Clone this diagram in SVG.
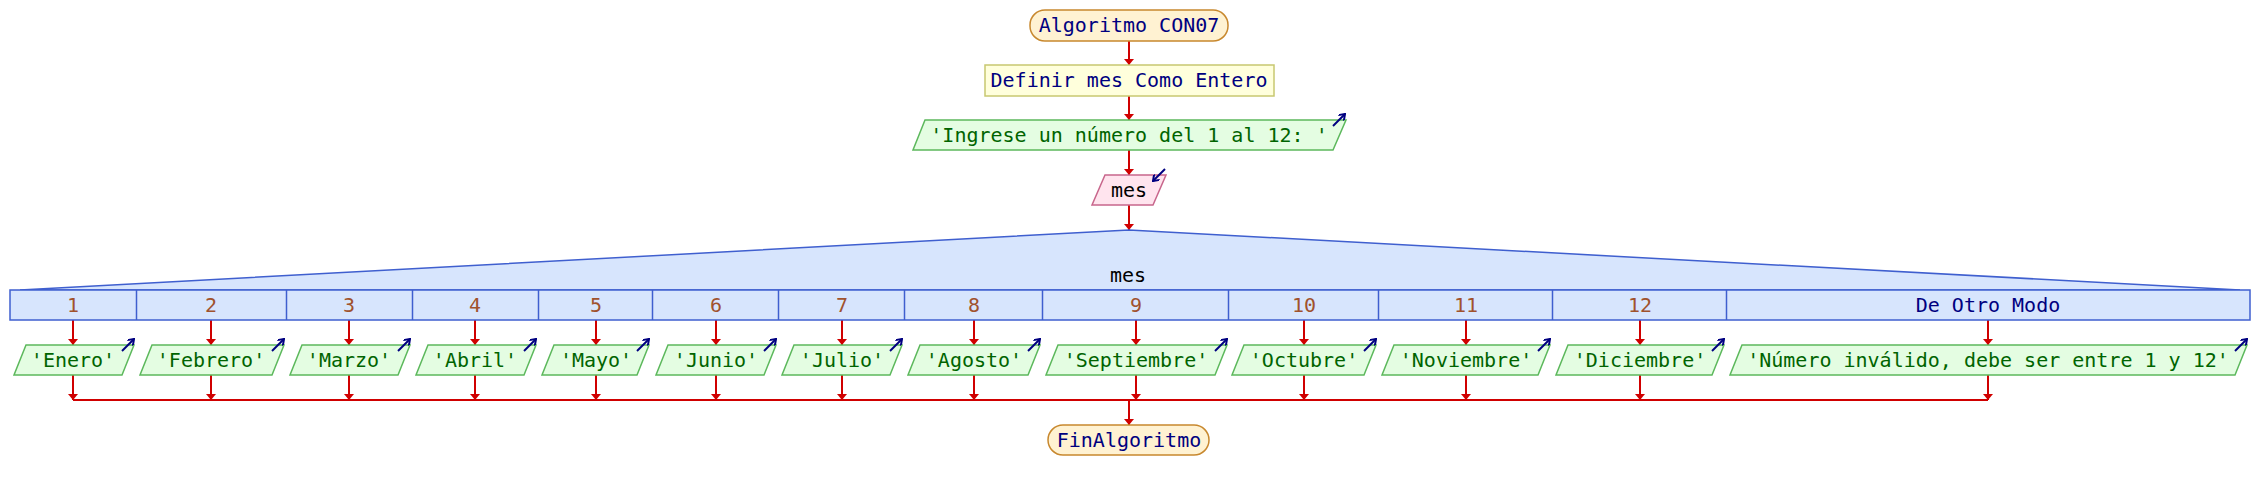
<svg xmlns="http://www.w3.org/2000/svg" width="2258" height="490" viewBox="0 0 2258 490">
<style>
text{font-family:"DejaVu Sans Mono","Liberation Mono",monospace;font-size:20px;text-anchor:middle}
.term{fill:#fff2d2;stroke:#c8882e;stroke-width:1.5}
.def{fill:#ffffdc;stroke:#c8c870;stroke-width:1.5}
.out{fill:#e4fde2;stroke:#5cb85c;stroke-width:1.5}
.in{fill:#ffe4ee;stroke:#c8668c;stroke-width:1.5}
.sw{fill:#d7e5fd;stroke:#3f5fcf;stroke-width:1.5}
.navy{fill:#000080}
.green{fill:#006400}
.black{fill:#000}
.case{fill:#a0522d}
.edge{stroke:#d00000;stroke-width:2;fill:none}
.sym{stroke:#000080;stroke-width:2;fill:none}
</style>
<defs>
<marker id="ah" viewBox="0 0 6 10" refX="6" refY="5" markerWidth="6" markerHeight="10" markerUnits="userSpaceOnUse" orient="auto">
<path d="M0,0 L6,5 L0,10 z" fill="#d00000"/>
</marker>
<marker id="oh" viewBox="0 0 10 10" refX="9" refY="5" markerWidth="8" markerHeight="8" markerUnits="userSpaceOnUse" orient="auto">
<path d="M2,0 L9,5 L2,10" fill="none" stroke="#000080" stroke-width="2.5"/>
</marker>
</defs>
<rect width="2258" height="490" fill="#fff"/>

<g id="edges">
<path class="edge" d="M1129,41 V65" marker-end="url(#ah)"/>
<path class="edge" d="M1129,96 V120" marker-end="url(#ah)"/>
<path class="edge" d="M1129,150 V175" marker-end="url(#ah)"/>
<path class="edge" d="M1129,205 V230" marker-end="url(#ah)"/>
<path class="edge" d="M73,320 V345" marker-end="url(#ah)"/>
<path class="edge" d="M211,320 V345" marker-end="url(#ah)"/>
<path class="edge" d="M349,320 V345" marker-end="url(#ah)"/>
<path class="edge" d="M475,320 V345" marker-end="url(#ah)"/>
<path class="edge" d="M596,320 V345" marker-end="url(#ah)"/>
<path class="edge" d="M716,320 V345" marker-end="url(#ah)"/>
<path class="edge" d="M842,320 V345" marker-end="url(#ah)"/>
<path class="edge" d="M974,320 V345" marker-end="url(#ah)"/>
<path class="edge" d="M1136,320 V345" marker-end="url(#ah)"/>
<path class="edge" d="M1304,320 V345" marker-end="url(#ah)"/>
<path class="edge" d="M1466,320 V345" marker-end="url(#ah)"/>
<path class="edge" d="M1640,320 V345" marker-end="url(#ah)"/>
<path class="edge" d="M1988,320 V345" marker-end="url(#ah)"/>
<path class="edge" d="M73,375 V400" marker-end="url(#ah)"/>
<path class="edge" d="M211,375 V400" marker-end="url(#ah)"/>
<path class="edge" d="M349,375 V400" marker-end="url(#ah)"/>
<path class="edge" d="M475,375 V400" marker-end="url(#ah)"/>
<path class="edge" d="M596,375 V400" marker-end="url(#ah)"/>
<path class="edge" d="M716,375 V400" marker-end="url(#ah)"/>
<path class="edge" d="M842,375 V400" marker-end="url(#ah)"/>
<path class="edge" d="M974,375 V400" marker-end="url(#ah)"/>
<path class="edge" d="M1136,375 V400" marker-end="url(#ah)"/>
<path class="edge" d="M1304,375 V400" marker-end="url(#ah)"/>
<path class="edge" d="M1466,375 V400" marker-end="url(#ah)"/>
<path class="edge" d="M1640,375 V400" marker-end="url(#ah)"/>
<path class="edge" d="M1988,375 V400" marker-end="url(#ah)"/>
<path class="edge" d="M73,400 H1988"/>
<path class="edge" d="M1129,400 V425" marker-end="url(#ah)"/>
</g>

<g id="start">
<rect class="term" x="1030" y="10" width="198" height="31" rx="15"/>
<text class="navy" x="1129" y="32">Algoritmo CON07</text>
</g>

<g id="definir">
<rect class="def" x="985" y="65" width="289" height="31"/>
<text class="navy" x="1129" y="87">Definir mes Como Entero</text>
</g>

<g id="escribir0">
<polygon class="out" points="925,120 1346,120 1333,150 913,150"/>
<text class="green" x="1129" y="142" xml:space="preserve">'Ingrese un número del 1 al 12: '</text>
<path class="sym" d="M1333,126 L1345,114" marker-end="url(#oh)"/>
</g>

<g id="leer">
<polygon class="in" points="1105,175 1166,175 1153,205 1092,205"/>
<text class="black" x="1129" y="197">mes</text>
<path class="sym" d="M1165,169 L1153,181" marker-end="url(#oh)"/>
</g>

<g id="segun">
<polygon class="sw" points="20,290 1129,230 2240,290"/>
<rect class="sw" x="10" y="290" width="2240" height="30"/>
<text class="black" x="1128" y="282">mes</text>
<g stroke="#3f5fcf" stroke-width="1.5">
<line x1="136.5" y1="290" x2="136.5" y2="320"/>
<line x1="286.5" y1="290" x2="286.5" y2="320"/>
<line x1="412.5" y1="290" x2="412.5" y2="320"/>
<line x1="538.5" y1="290" x2="538.5" y2="320"/>
<line x1="652.5" y1="290" x2="652.5" y2="320"/>
<line x1="778.5" y1="290" x2="778.5" y2="320"/>
<line x1="904.5" y1="290" x2="904.5" y2="320"/>
<line x1="1042.5" y1="290" x2="1042.5" y2="320"/>
<line x1="1228.5" y1="290" x2="1228.5" y2="320"/>
<line x1="1378.5" y1="290" x2="1378.5" y2="320"/>
<line x1="1552.5" y1="290" x2="1552.5" y2="320"/>
<line x1="1726.5" y1="290" x2="1726.5" y2="320"/>
</g>
<text class="case" x="73" y="312">1</text>
<text class="case" x="211" y="312">2</text>
<text class="case" x="349" y="312">3</text>
<text class="case" x="475" y="312">4</text>
<text class="case" x="596" y="312">5</text>
<text class="case" x="716" y="312">6</text>
<text class="case" x="842" y="312">7</text>
<text class="case" x="974" y="312">8</text>
<text class="case" x="1136" y="312">9</text>
<text class="case" x="1304" y="312">10</text>
<text class="case" x="1466" y="312">11</text>
<text class="case" x="1640" y="312">12</text>
<text class="navy" x="1988" y="312">De Otro Modo</text>
</g>

<g id="out1">
<polygon class="out" points="26,345 134,345 122,375 14,375"/>
<text class="green" x="73" y="367">'Enero'</text>
<path class="sym" d="M122,351 L134,339" marker-end="url(#oh)"/>
</g>
<g id="out2">
<polygon class="out" points="152,345 284,345 272,375 140,375"/>
<text class="green" x="211" y="367">'Febrero'</text>
<path class="sym" d="M272,351 L284,339" marker-end="url(#oh)"/>
</g>
<g id="out3">
<polygon class="out" points="302,345 410,345 398,375 290,375"/>
<text class="green" x="349" y="367">'Marzo'</text>
<path class="sym" d="M398,351 L410,339" marker-end="url(#oh)"/>
</g>
<g id="out4">
<polygon class="out" points="428,345 536,345 524,375 416,375"/>
<text class="green" x="475" y="367">'Abril'</text>
<path class="sym" d="M524,351 L536,339" marker-end="url(#oh)"/>
</g>
<g id="out5">
<polygon class="out" points="554,345 649,345 637,375 542,375"/>
<text class="green" x="596" y="367">'Mayo'</text>
<path class="sym" d="M637,351 L649,339" marker-end="url(#oh)"/>
</g>
<g id="out6">
<polygon class="out" points="668,345 776,345 764,375 656,375"/>
<text class="green" x="716" y="367">'Junio'</text>
<path class="sym" d="M764,351 L776,339" marker-end="url(#oh)"/>
</g>
<g id="out7">
<polygon class="out" points="794,345 902,345 890,375 782,375"/>
<text class="green" x="842" y="367">'Julio'</text>
<path class="sym" d="M890,351 L902,339" marker-end="url(#oh)"/>
</g>
<g id="out8">
<polygon class="out" points="920,345 1040,345 1028,375 908,375"/>
<text class="green" x="974" y="367">'Agosto'</text>
<path class="sym" d="M1028,351 L1040,339" marker-end="url(#oh)"/>
</g>
<g id="out9">
<polygon class="out" points="1058,345 1227,345 1215,375 1046,375"/>
<text class="green" x="1136" y="367">'Septiembre'</text>
<path class="sym" d="M1215,351 L1227,339" marker-end="url(#oh)"/>
</g>
<g id="out10">
<polygon class="out" points="1244,345 1376,345 1364,375 1232,375"/>
<text class="green" x="1304" y="367">'Octubre'</text>
<path class="sym" d="M1364,351 L1376,339" marker-end="url(#oh)"/>
</g>
<g id="out11">
<polygon class="out" points="1394,345 1550,345 1538,375 1382,375"/>
<text class="green" x="1466" y="367">'Noviembre'</text>
<path class="sym" d="M1538,351 L1550,339" marker-end="url(#oh)"/>
</g>
<g id="out12">
<polygon class="out" points="1568,345 1724,345 1712,375 1556,375"/>
<text class="green" x="1640" y="367">'Diciembre'</text>
<path class="sym" d="M1712,351 L1724,339" marker-end="url(#oh)"/>
</g>
<g id="outOtro">
<polygon class="out" points="1742,345 2247,345 2235,375 1730,375"/>
<text class="green" x="1988" y="367">'Número inválido, debe ser entre 1 y 12'</text>
<path class="sym" d="M2235,351 L2247,339" marker-end="url(#oh)"/>
</g>

<g id="end">
<rect class="term" x="1048" y="425" width="161" height="30" rx="15"/>
<text class="navy" x="1129" y="447">FinAlgoritmo</text>
</g>
</svg>
